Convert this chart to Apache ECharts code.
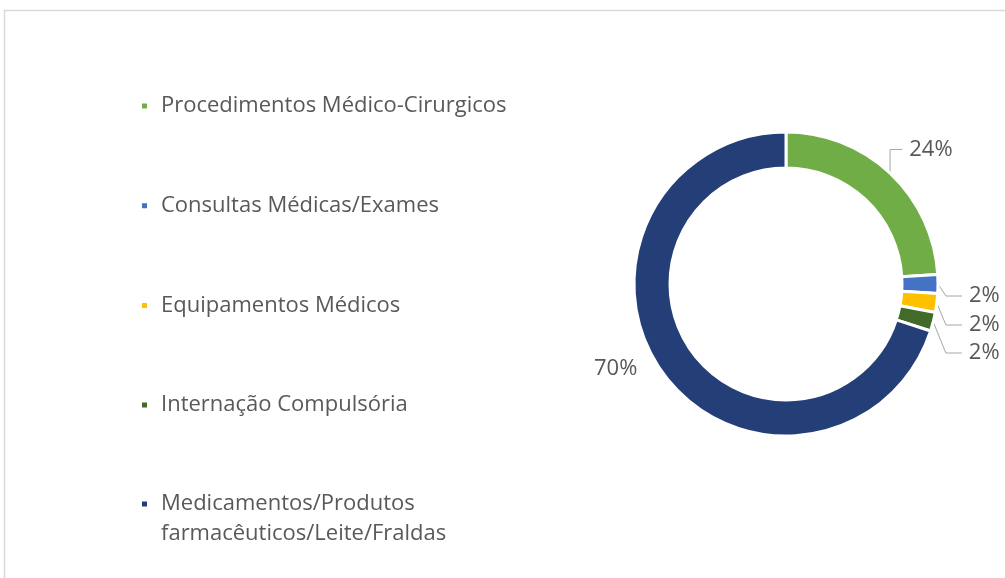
<!DOCTYPE html>
<html>
<head>
<meta charset="utf-8">
<script src="https://cdn.jsdelivr.net/npm/echarts@6/dist/echarts.min.js"></script>
<style>
    html, body { margin: 0; padding: 0; background: #fff; }
    #pie-chart { width: 1005px; height: 578px; }
</style>
</head>
<body>
<div id="pie-chart"></div>
<script>
// dados do gráfico
const categorias = [
    'Procedimentos Médico-Cirurgicos',
    'Consultas Médicas/Exames',
    'Equipamentos Médicos',
    'Internação Compulsória',
    'Medicamentos/Produtos farmacêuticos/Leite/Fraldas'
];
const percentuais = [24, 2, 2, 2, 70];
const cores = ['#70ad47', '#4472c4', '#ffc000', '#426b2a', '#243f78'];

const pieChart = echarts.init(document.getElementById('pie-chart'));

const pieData = categorias.map(function (nome, i) {
    const item = { name: nome, value: percentuais[i], itemStyle: { color: cores[i] } };
    if (i === 4) {
        item.labelLine = { show: false };
    }
    return item;
});

const textoCinza = '#595959';
const fonte = 'Open Sans';

// ajuste fino dos rótulos (dx, dy) em relação à posição calculada
const ajusteRotulo = [[-17, -15], [-4, 12], [-4, 10], [-4, 7], [5, -12]];

const option = {
    animation: false,
    backgroundColor: '#ffffff',
    graphic: [{
        type: 'rect',
        shape: { x: 4.5, y: 10.5, width: 1100, height: 700 },
        style: { fill: 'none', stroke: '#d9d9d9', lineWidth: 1.5 },
        silent: true
    }],
    legend: [
        {
            orient: 'vertical',
            left: 140,
            top: 95,
            padding: 0,
            itemWidth: 7,
            itemHeight: 7,
            itemGap: 77.7,
            icon: 'rect',
            data: categorias.slice(0, 4),
            textStyle: { color: textoCinza, fontSize: 22, fontFamily: fonte, lineHeight: 22, padding: [0, 0, 0, 8] }
        },
        {
            orient: 'vertical',
            left: 140,
            top: 463,
            padding: 0,
            itemWidth: 7,
            itemHeight: 7,
            icon: 'rect',
            data: categorias.slice(4),
            formatter: function (nome) {
                const partes = nome.split(' ');
                return '{e| }\n{t|' + partes[0] + '}\n{t|' + partes[1] + '}';
            },
            textStyle: {
                color: textoCinza, fontSize: 22, fontFamily: fonte, padding: [0, 0, 0, 8],
                rich: {
                    e: { lineHeight: 30, fontSize: 22, fontFamily: fonte },
                    t: { lineHeight: 30, fontSize: 22, fontFamily: fonte, color: textoCinza }
                }
            }
        }
    ],
    series: [{
        name: 'Despesas',
        type: 'pie',
        center: [786, 284],
        radius: [116, 152],
        startAngle: 90,
        clockwise: true,
        avoidLabelOverlap: true,
        data: pieData,
        itemStyle: { borderColor: '#ffffff', borderWidth: 3 },
        label: {
            show: true,
            position: 'outside',
            formatter: '{c}%',
            overflow: 'none',
            color: textoCinza,
            fontSize: 22,
            fontFamily: fonte,
            lineHeight: 29,
            padding: [0, 0, 0, 7]
        },
        labelLine: {
            show: true,
            length: 12,
            length2: 16,
            lineStyle: { color: '#a6a6a6', width: 1 }
        },
        labelLayout: function (p) {
            const a = ajusteRotulo[p.dataIndex];
            const r = p.labelRect;
            const ancoraX = p.dataIndex === 4 ? r.x + r.width : r.x;
            return { x: ancoraX + a[0], y: r.y + r.height / 2 + a[1] };
        },
        emphasis: { disabled: true }
    }]
};

pieChart.setOption(option);
</script>
</body>
</html>
